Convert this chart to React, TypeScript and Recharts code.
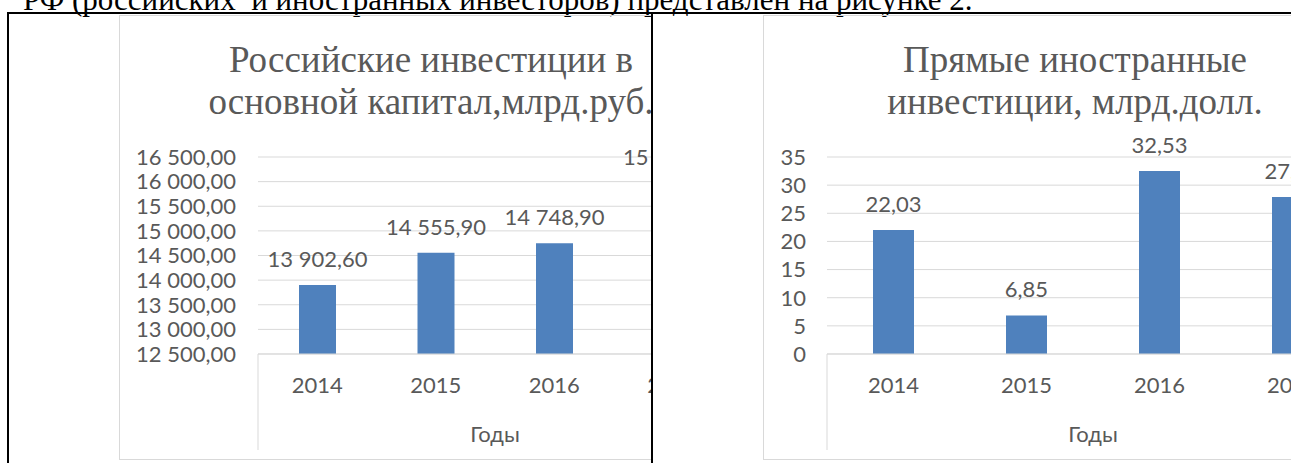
import React from 'react';
import { BarChart, Bar, XAxis, YAxis, CartesianGrid, LabelList } from 'recharts';

const years = ['2014', '2015', '2016', '2017'];
const rubInvest = [13902.6, 14555.9, 14748.9, 15966.8];
const rubTicks = [12500, 13000, 13500, 14000, 14500, 15000, 15500, 16000, 16500];
const fdiInvest = [22.03, 6.85, 32.53, 27.89];
const fdiTicks = [0, 5, 10, 15, 20, 25, 30, 35];

const rubData = years.map((year, i) => ({ year, value: rubInvest[i] }));
const fdiData = years.map((year, i) => ({ year, value: fdiInvest[i] }));

const BLUE = '#4f81bd';
const GRID = '#d9d9d9';
const TEXT = '#595959';
const SANS = 'Lato, "Open Sans", sans-serif';
const SERIF = '"Liberation Serif", "Times New Roman", serif';

const CHART_W = 624;
const CHART_H = 445;

// 16500 -> "16 500,00"
const fmtRu = (v: number, digits: number) => {
  const [int, frac] = Number(v).toFixed(digits).split('.');
  const grouped = int.replace(/\B(?=(\d{3})+(?!\d))/g, '\u00a0');
  return frac ? grouped + ',' + frac : grouped;
};

// outer level of the category axis: "Годы" with its side dividers
const GroupLabel = (props: any) => {
  const { x, y, width } = props.viewBox;
  return (
    <g>
      <line x1={x} y1={y} x2={x} y2={y + 96} stroke={GRID} />
      <line x1={x + width} y1={y} x2={x + width} y2={y + 96} stroke={GRID} />
      <text x={x + width / 2} y={y + 79} textAnchor="middle" dominantBaseline="central"
        fill={TEXT} fontSize={22} fontFamily={SANS}>Годы</text>
    </g>
  );
};

interface PanelProps {
  left: number;
  clipWidth: number;
  title: string[];
  data: { year: string; value: number }[];
  ticks: number[];
  yWidth: number;
  tickGap: number;
  marginRight: number;
  barSize: number;
  tickDigits: number;
}

const Panel: React.FC<PanelProps> = ({ left, clipWidth, title, data, ticks, yWidth, tickGap, marginRight, barSize, tickDigits }) => (
  <div style={{ position: 'absolute', left, top: 15, width: clipWidth, height: CHART_H + 2, overflow: 'hidden' }}>
    <div style={{ position: 'absolute', left: 0, top: 0, width: CHART_W, height: CHART_H, boxSizing: 'border-box', border: `1px solid ${GRID}` }} />
    <div style={{ position: 'absolute', left: 0, top: 24, width: CHART_W, textAlign: 'center', whiteSpace: 'nowrap',
      fontFamily: SERIF, fontSize: 37, lineHeight: '42px', color: TEXT }}>
      {title[0]}<br />{title[1]}
    </div>
    <div style={{ position: 'absolute', left: 0, top: 0 }}>
      <BarChart width={CHART_W} height={CHART_H} data={data} margin={{ top: 142, right: marginRight, bottom: 0, left: 0 }}>
        <CartesianGrid vertical={false} stroke={GRID} />
        <XAxis dataKey="year" height={106} interval={0} tickSize={0} tickMargin={23} tickLine={false}
          axisLine={{ stroke: GRID }} tick={{ fill: TEXT, fontSize: 22, fontFamily: SANS }} label={<GroupLabel />} />
        <YAxis type="number" domain={[ticks[0], ticks[ticks.length - 1]]} ticks={ticks} width={yWidth} interval={0}
          tickSize={0} tickMargin={tickGap} tickLine={false} axisLine={false}
          tickFormatter={(v: number) => fmtRu(v, tickDigits)}
          tick={{ fill: TEXT, fontSize: 22, fontFamily: SANS }} />
        <Bar dataKey="value" fill={BLUE} barSize={barSize} isAnimationActive={false}>
          <LabelList dataKey="value" position="top" offset={18} fill={TEXT} fontSize={22} fontFamily={SANS}
            formatter={(v: any) => fmtRu(v, 2)} />
        </Bar>
      </BarChart>
    </div>
  </div>
);

export default function App() {
  return (
    <div style={{ position: 'fixed', left: 0, top: 0, width: 1291, height: 463, overflow: 'hidden', background: '#fff' }}>
      <div style={{ position: 'absolute', left: 23, top: -16, fontFamily: SERIF, fontSize: 31, lineHeight: '31px',
        whiteSpace: 'pre', color: '#000' }}>
        {'РФ (российских  и иностранных инвесторов) представлен на рисунке 2.'}
      </div>
      <div style={{ position: 'absolute', left: 7, top: 12, width: 1284, height: 2, background: '#000' }} />
      <div style={{ position: 'absolute', left: 7, top: 12, width: 2, height: 451, background: '#000' }} />
      <div style={{ position: 'absolute', left: 651, top: 12, width: 2, height: 451, background: '#000' }} />
      <Panel left={119} clipWidth={532} title={['Российские инвестиции в', 'основной капитал,млрд.руб.']}
        data={rubData} ticks={rubTicks} yWidth={139} tickGap={22} marginRight={11} barSize={37} tickDigits={2} />
      <Panel left={763} clipWidth={528} title={['Прямые иностранные', 'инвестиции, млрд.долл.']}
        data={fdiData} ticks={fdiTicks} yWidth={64} tickGap={21} marginRight={28} barSize={41} tickDigits={0} />
    </div>
  );
}
